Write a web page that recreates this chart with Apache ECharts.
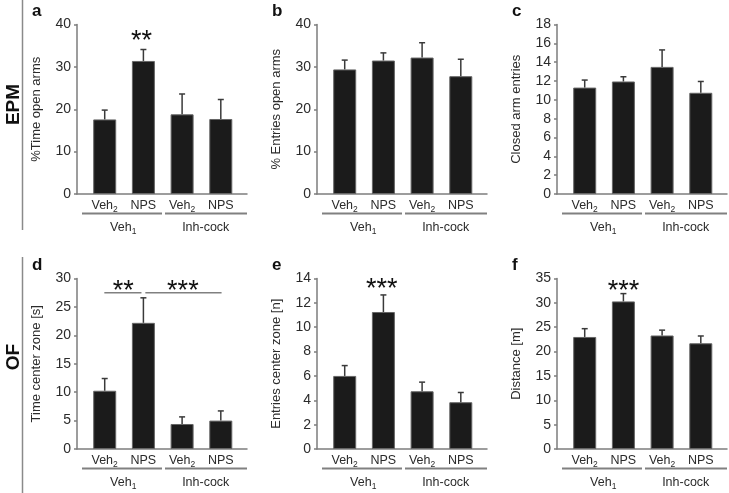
<!DOCTYPE html>
<html><head><meta charset="utf-8">
<script src="https://cdn.jsdelivr.net/npm/echarts@6/dist/echarts.min.js"></script>
<style>html,body{margin:0;padding:0;background:#fff}#c{width:729px;height:493px}</style>
</head><body><div id="c"></div>
<script>
// ---- data ----
const condLabels = ['Veh2', 'NPS', 'Veh2', 'NPS'];
const groupLabels = ['Veh1', 'Inh-cock'];
const rowLabels = ['EPM', 'OF'];
const panelLetters = ['a', 'b', 'c', 'd', 'e', 'f'];
const yNames = ['%Time open arms', '% Entries open arms', 'Closed arm entries',
                'Time center zone [s]', 'Entries center zone [n]', 'Distance [m]'];
const yMaxes = [40, 40, 18, 30, 14, 35];
const yIntervals = [10, 10, 2, 5, 2, 5];
// means and SEM
const timeOpenArms = [17.6, 31.4, 18.8, 17.7];
const timeOpenArmsSem = [2.2, 2.7, 4.8, 4.6];
const entriesOpenArms = [29.4, 31.5, 32.2, 27.8];
const entriesOpenArmsSem = [2.2, 1.8, 3.5, 4.0];
const closedArmEntries = [11.3, 11.95, 13.5, 10.75];
const closedArmEntriesSem = [0.8, 0.5, 1.8, 1.2];
const timeCenterZone = [10.25, 22.2, 4.4, 5.0];
const timeCenterZoneSem = [2.15, 4.4, 1.25, 1.7];
const entriesCenterZone = [6.0, 11.25, 4.74, 3.84];
const entriesCenterZoneSem = [0.85, 1.4, 0.75, 0.8];
const distance = [23.0, 30.3, 23.3, 21.7];
const distanceSem = [1.7, 1.6, 1.1, 1.5];
const means = [timeOpenArms, entriesOpenArms, closedArmEntries, timeCenterZone, entriesCenterZone, distance];
const sems = [timeOpenArmsSem, entriesOpenArmsSem, closedArmEntriesSem, timeCenterZoneSem, entriesCenterZoneSem, distanceSem];
// significance annotations: [panel, xPos (category units), yValue, text]
const stars = [[0, 0.95, 37.3, '**'], [3, 0.48, 28.8, '**'], [3, 2.02, 28.8, '***'], [4, 0.96, 13.6, '***'], [5, 1.0, 33.6, '***']];
// significance lines: [panel, x1, x2, yValue]
const sigLines = [[3, -0.01, 0.95, 27.5], [3, 1.05, 3.02, 27.5]];

// ---- layout ----
const FONT = "'Liberation Sans', Arial, Helvetica, sans-serif";
const lefts = [77, 317, 557, 77, 317, 557];
const tops = [24.5, 24.5, 24.5, 278.5, 278.5, 278.5];
const bottoms = [194, 194, 194, 449, 449, 449];
const AXW = 170, X_MIN = -0.716, X_MAX = 3.677;
const AX_COLOR = '#7d7d7d', TXT = '#2b2b2b';

const chart = echarts.init(document.getElementById('c'), null, {renderer: 'canvas'});
const grid = [], xAxis = [], yAxis = [], series = [];
const mainIdx = [];
const richLab = {
  m: {fontSize: 12.5, fontFamily: FONT, color: TXT, lineHeight: 16},
  s: {fontSize: 8.5, fontFamily: FONT, color: TXT, lineHeight: 16, padding: [7, 0, 0, 0]}
};
function subFmt(v) {
  const m = v.match(/^(Veh)(\d)$/);
  return m ? '{m|' + m[1] + '}{s|' + m[2] + '}' : '{m|' + v + '}';
}
function makeErrRender(mv, sv) {
  return function (params, api) {
    const k = params.dataIndex;
    const p0 = api.coord([k, mv[k]]);
    const p1 = api.coord([k, mv[k] + sv[k]]);
    const cw = 3;
    return {type: 'group', children: [
      {type: 'line', shape: {x1: p0[0], y1: p0[1], x2: p1[0], y2: p1[1]}, style: {stroke: '#3a3a3a', lineWidth: 1.5}},
      {type: 'line', shape: {x1: p1[0] - cw, y1: p1[1], x2: p1[0] + cw, y2: p1[1]}, style: {stroke: '#3a3a3a', lineWidth: 1.5}}
    ]};
  };
}
for (let i = 0; i < 6; i++) {
  const L = lefts[i], T = tops[i], H = bottoms[i] - tops[i];
  const g0 = grid.length;
  grid.push({left: L, top: T, width: AXW, height: H});
  grid.push({left: L + 8.3, top: T, width: 154.8, height: H});
  grid.push({left: L + 5, top: T, width: 165, height: H});
  const xi = xAxis.length, yi = yAxis.length;
  mainIdx.push([xi, yi]);
  xAxis.push({gridIndex: g0, type: 'value', min: X_MIN, max: X_MAX,
    axisLine: {show: true, onZero: false, lineStyle: {color: AX_COLOR, width: 1.5}},
    axisTick: {show: false}, axisLabel: {show: false}, splitLine: {show: false}});
  yAxis.push({gridIndex: g0, type: 'value', min: 0, max: yMaxes[i], interval: yIntervals[i],
    name: yNames[i], nameLocation: 'middle', nameGap: 34,
    nameTextStyle: {fontSize: 13, fontFamily: FONT, color: TXT},
    axisLine: {show: true, onZero: false, lineStyle: {color: AX_COLOR, width: 1.5}},
    axisTick: {show: true, inside: false, length: 3, lineStyle: {color: AX_COLOR, width: 1.5}},
    axisLabel: {margin: 6, fontSize: 14, fontFamily: FONT, color: TXT},
    splitLine: {show: false}});
  xAxis.push({gridIndex: g0 + 1, type: 'category', data: condLabels,
    axisLine: {show: false}, axisTick: {show: false},
    axisLabel: {margin: 4, formatter: subFmt, rich: richLab, interval: 0}});
  yAxis.push({gridIndex: g0 + 1, type: 'value', show: false});
  xAxis.push({gridIndex: g0 + 2, type: 'category', data: groupLabels,
    axisLine: {show: false}, axisTick: {show: false},
    axisLabel: {margin: 26, formatter: subFmt, rich: richLab, interval: 0}});
  yAxis.push({gridIndex: g0 + 2, type: 'value', show: false});

  series.push({type: 'bar', xAxisIndex: xi, yAxisIndex: yi, barWidth: 23, silent: true,
    data: means[i].map((v, k) => [k, v]),
    itemStyle: {color: '#1b1b1b', borderColor: '#666', borderWidth: 1}});
  series.push({type: 'custom', xAxisIndex: xi, yAxisIndex: yi, silent: true, z: 5,
    data: means[i].map((v, k) => [k, v + sems[i][k]]),
    renderItem: makeErrRender(means[i], sems[i])});
}
chart.setOption({animation: false, grid, xAxis, yAxis, series});

// ---- annotations ----
const graphic = [];
for (let i = 0; i < 6; i++) {
  const L = lefts[i], B = bottoms[i];
  graphic.push({type: 'line', shape: {x1: L + 5, y1: B + 19.5, x2: L + 85, y2: B + 19.5}, style: {stroke: '#808080', lineWidth: 2}});
  graphic.push({type: 'line', shape: {x1: L + 88, y1: B + 19.5, x2: L + 170, y2: B + 19.5}, style: {stroke: '#808080', lineWidth: 2}});
  graphic.push({type: 'text', left: L - 45, top: tops[i] - 22, style: {text: panelLetters[i], font: 'bold 17px ' + FONT, fill: '#111'}});
}
function px(i, x, y) {
  return chart.convertToPixel({xAxisIndex: mainIdx[i][0], yAxisIndex: mainIdx[i][1]}, [x, y]);
}
stars.forEach(s => {
  const p = px(s[0], s[1], s[2]);
  graphic.push({type: 'text', x: p[0], y: p[1] + 6, style: {text: s[3], font: '27px ' + FONT, fill: '#111', align: 'center', verticalAlign: 'middle'}});
});
sigLines.forEach(s => {
  const a = px(s[0], s[1], s[3]), b = px(s[0], s[2], s[3]);
  graphic.push({type: 'line', shape: {x1: a[0], y1: a[1], x2: b[0], y2: b[1]}, style: {stroke: '#808080', lineWidth: 1.5}});
});
// row separators and labels
graphic.push({type: 'line', shape: {x1: 22.5, y1: 0, x2: 22.5, y2: 230}, style: {stroke: '#8a8a8a', lineWidth: 1.5}});
graphic.push({type: 'line', shape: {x1: 22.5, y1: 257, x2: 22.5, y2: 493}, style: {stroke: '#8a8a8a', lineWidth: 1.5}});
graphic.push({type: 'text', x: 13.5, y: 104.5, rotation: Math.PI / 2, style: {text: rowLabels[0], font: 'bold 19px ' + FONT, fill: '#111', align: 'center', verticalAlign: 'middle'}});
graphic.push({type: 'text', x: 13.5, y: 357, rotation: Math.PI / 2, style: {text: rowLabels[1], font: 'bold 19px ' + FONT, fill: '#111', align: 'center', verticalAlign: 'middle'}});
chart.setOption({graphic});
</script></body></html>
